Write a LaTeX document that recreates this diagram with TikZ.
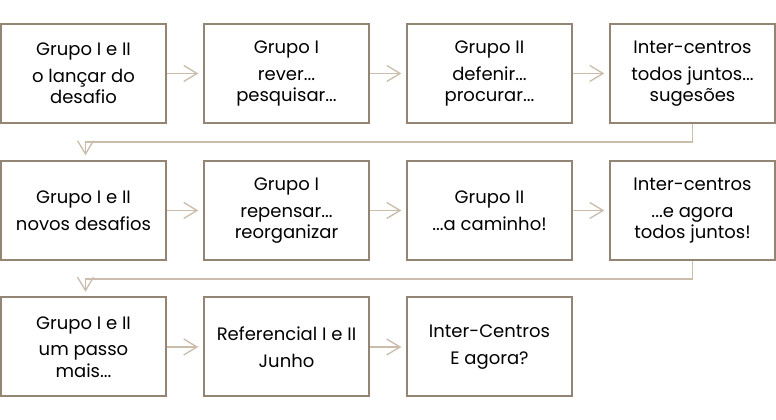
\documentclass[tikz,border=0pt]{standalone}
\usepackage{fontspec}
\setmainfont{Poppins}
\usetikzlibrary{arrows.meta}
\definecolor{boxc}{HTML}{948473}
\definecolor{linec}{HTML}{CBBDAC}
\begin{document}
\begin{tikzpicture}[x=0.75pt,y=-0.75pt,
  stepbox/.style={draw=boxc, line width=1.5pt, fill=white,
    minimum width=123.75pt, minimum height=74.25pt, align=center,
    inner sep=0pt, font=\fontsize{13.5}{16}\selectfont, text=black},
  conn/.style={draw=linec, line width=1pt,
    -{Straight Barb[length=10pt,width=12pt]}, shorten >=3.5pt}]
\useasboundingbox (0,0) rectangle (776,420);
% row 1
\node[stepbox] (a1) at (83.5,73.5)  {Grupo I e II\\[4pt]o lançar do\\desafio};
\node[stepbox] (a2) at (286.5,73.5) {Grupo I\\[4pt]rever...\\pesquisar...};
\node[stepbox] (a3) at (489.5,73.5) {Grupo II\\[4pt]defenir...\\procurar...};
\node[stepbox] (a4) at (692.5,73.5) {Inter-centros\\[4pt]todos juntos...\\sugesões};
% row 2
\node[stepbox] (b1) at (83.5,210.5)  {Grupo I e II\\[4pt]novos desafios};
\node[stepbox] (b2) at (286.5,210.5) {Grupo I\\[4pt]repensar...\\reorganizar};
\node[stepbox] (b3) at (489.5,210.5) {Grupo II\\[4pt]...a caminho!};
\node[stepbox] (b4) at (692.5,210.5) {Inter-centros\\[4pt]...e agora\\todos juntos!};
% row 3
\node[stepbox] (c1) at (83.5,347)  {Grupo I e II\\[4pt]um passo\\mais...};
\node[stepbox] (c2) at (286.5,347) {Referencial I e II\\[4pt]Junho};
\node[stepbox] (c3) at (489.5,347) {Inter-Centros\\[4pt]E agora?};
% connectors
\draw[conn] (a1.east) -- (a2.west);
\draw[conn] (a2.east) -- (a3.west);
\draw[conn] (a3.east) -- (a4.west);
\draw[conn] (a4.south) -- ++(0,18) -| ([xshift=1.5]b1.north);
\draw[conn] (b1.east) -- (b2.west);
\draw[conn] (b2.east) -- (b3.west);
\draw[conn] (b3.east) -- (b4.west);
\draw[conn] (b4.south) -- ++(0,18) -| ([xshift=1.5]c1.north);
\draw[conn] (c1.east) -- (c2.west);
\draw[conn] (c2.east) -- (c3.west);
\end{tikzpicture}
\end{document}
